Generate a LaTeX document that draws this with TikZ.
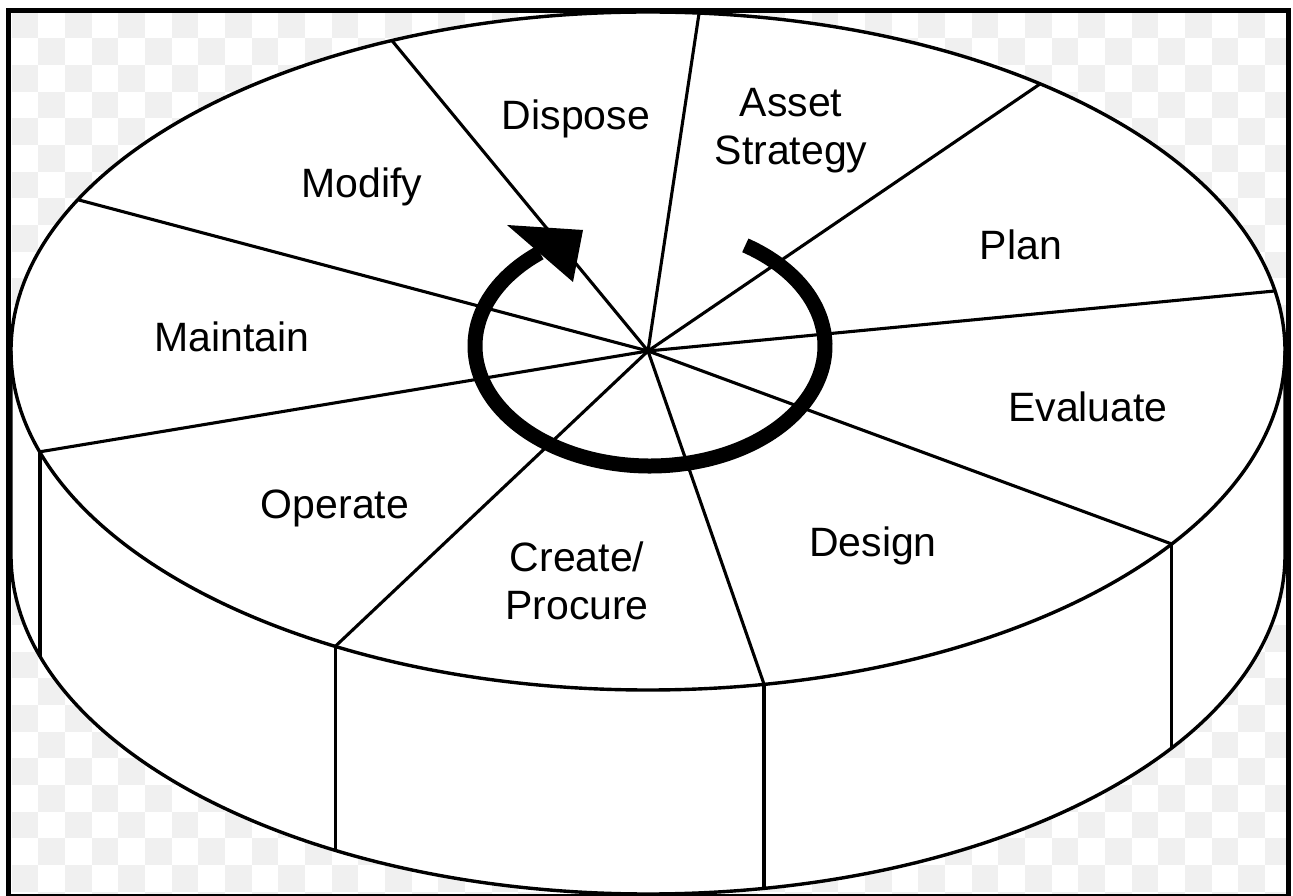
\documentclass[tikz,border=0pt]{standalone}
\usepackage{fontspec}
\setmainfont{Liberation Sans}
\usetikzlibrary{calc}
\definecolor{chk}{RGB}{240,240,240}
\begin{document}
\begin{tikzpicture}[x=1pt,y=1pt,
  lbl/.style={font=\fontsize{41}{48}\selectfont, inner sep=0pt, align=center, anchor=base},
  edge/.style={line width=3.4pt, line join=round},
  spoke/.style={line width=3.1pt},
  cyc/.style={line width=15pt},
  frame/.style={line width=5pt}]
\useasboundingbox (0,0) rectangle (1293,895);
% checkerboard background
\begin{scope}
\clip (8,0) rectangle (1288,884);
\foreach \i in {0,...,47}{
  \foreach \j in {0,...,33}{
    \pgfmathtruncatemacro\pp{mod(\i+\j,2)}
    \ifnum\pp=0
      \fill[chk] ({11.667+26.667*\i},{895-11.667-26.667*\j}) rectangle ++(26.667,-26.667);
    \fi
  }
}
\end{scope}
% cylinder
\coordinate (c1) at (648,544);
\coordinate (c2) at (648,340);
\coordinate (hub) at (648,544);
\filldraw[fill=white, edge] ($(c1)+(-637,0)$) -- ($(c2)+(-637,0)$)
  arc[start angle=180,end angle=360,x radius=637,y radius=339]
  -- ($(c1)+(637,0)$)
  arc[start angle=0,end angle=180,x radius=637,y radius=339] -- cycle;
\draw[edge] ($(c1)+(-637,0)$) arc[start angle=180,end angle=360,x radius=637,y radius=339];
% spokes
\foreach \n/\a in {1/113.7, 2/85.4, 3/52, 4/10.2, 5/-34.7, 6/-79.5, 7/240.6, 8/197.3, 9/153.5}{
  \coordinate (s\n) at ($(c1)+(\a:637pt and 339pt)$);
}
\foreach \n in {1,...,9}{\draw[spoke] (hub) -- (s\n);}
\foreach \n in {5,...,8}{
  \coordinate (b\n) at ($(s\n)+(0,-204)$);
  \draw[edge] (s\n) -- (b\n);
}
% cycle arrow
\coordinate (ac) at (650,549);
\coordinate (atail) at ($(ac)+(57:175pt and 120pt)$);
\draw[cyc] (atail) arc[start angle=57,end angle=-231,x radius=175,y radius=120] coordinate (aend);
\coordinate (h1) at (507,670);
\coordinate (h2) at (583,665);
\coordinate (h3) at (573,613);
\fill (h1) -- (h2) -- (h3) -- cycle;
% labels
\node[lbl] (dispose) at (576,765) {Dispose};
\node[lbl] (asset) at (791,730) {Asset\\Strategy};
\node[lbl] (modify) at (362,697) {Modify};
\node[lbl] (maintain) at (232,543) {Maintain};
\node[lbl] (operate) at (335,376) {Operate};
\node[lbl] (create) at (577,276) {Create/\\Procure};
\node[lbl] (plan) at (1021,635) {Plan};
\node[lbl] (evaluate) at (1088,473) {Evaluate};
\node[lbl] (design) at (873,338) {Design};
% frame
\draw[frame] (8,884.5) rectangle (1288.5,-1.5);
\end{tikzpicture}
\end{document}
